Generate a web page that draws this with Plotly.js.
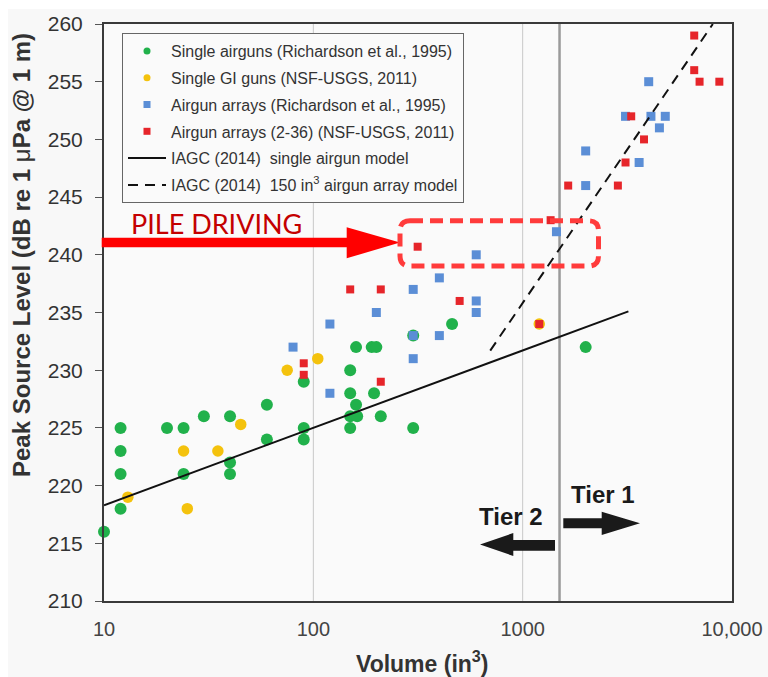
<!DOCTYPE html>
<html>
<head>
<meta charset="utf-8">
<script src="https://cdn.plot.ly/plotly-3.0.1.min.js"></script>
<style>
  html, body { margin: 0; padding: 0; background: #ffffff; }
  #chart { position: absolute; left: 8px; top: 9px; width: 760px; height: 668px; }
</style>
</head>
<body>
<div id="chart"></div>
<script>
// ---------------- DATA ----------------
const singleAirgunsX = [10, 12, 12, 12, 12, 20, 24, 24, 30, 40, 40, 40, 60, 60, 90, 90, 90,
  150, 150, 150, 150, 160, 160, 162, 190, 200, 195, 210, 300, 300, 460, 2000];
const singleAirgunsY = [216, 225, 223, 221, 218, 225, 225, 221, 226, 226, 222, 221, 227, 224, 229, 225, 224,
  230, 228, 226, 225, 232, 227, 226, 232, 232, 228, 226, 233, 225, 234, 232];

const giGunsX = [13, 24, 25, 35, 45, 75, 105, 1200];
const giGunsY = [219, 223, 218, 223, 225.3, 230, 231, 234];

const arraysRichX = [80, 120, 120, 200, 300, 300, 300, 400, 400, 600, 600, 600, 1450,
  2000, 2000, 3100, 3600, 4000, 4100, 4500, 4800];
const arraysRichY = [232, 234, 228, 235, 237, 231, 233, 238, 233, 240, 236, 235, 242,
  249, 246, 252, 248, 255, 252, 251, 252];

const arraysNsfX = [90, 90, 150, 210, 210, 315, 500, 1200, 1360, 1650, 2850, 3100, 3300, 3800,
  6600, 6600, 7000, 8700];
const arraysNsfY = [230.6, 229.6, 237, 237, 229, 240.7, 236, 234, 243, 246, 246, 248, 252, 250,
  259, 256, 255, 255];

const singleModelX = [10, 3200];
const singleModelY = [218.3, 235.1];

const arrayModelX = [700, 8100];
const arrayModelY = [231.7, 260];

const xTickVals = [10, 100, 1000, 10000];
const xTickText = ['10', '100', '1000', '10,000'];
const gridLinesX = [100, 1000];
const tierBoundaryX = 1500;

const legendNames = [
  'Single airguns (Richardson et al., 1995)',
  'Single GI guns (NSF-USGS, 2011)',
  'Airgun arrays (Richardson et al., 1995)',
  'Airgun arrays (2-36) (NSF-USGS, 2011)',
  'IAGC (2014)  single airgun model',
  'IAGC (2014)  150 in<sup>3</sup> airgun array model'
];

// ---------------- STYLE ----------------
const GREEN = '#21b14b', YELLOW = '#f4c20d', BLUE = '#5b8ed6', RED = '#e6252a';
const FONT = 'Liberation Sans, Arial, sans-serif';

// page-pixel -> paper coords helper for decorative shapes (plot area: x 104..732, y 24..601)
const PL = 104, PW = 628, PB = 601, PH = 577;
const P = (px, py) => ((px - PL) / PW).toFixed(5) + ',' + ((PB - py) / PH).toFixed(5);
const poly = pts => 'M' + pts.map(p => P(p[0], p[1])).join(' L') + ' Z';

const markerTrace = (x, y, name, color, symbol, size) => ({
  x, y, type: 'scatter', mode: 'markers', name, showlegend: false, cliponaxis: false,
  marker: { color, symbol, size, line: { width: 0 } }, hoverinfo: 'x+y'
});
const legendProxy = (name, group, opts) => Object.assign({
  x: [null], y: [null], type: 'scatter', name, legendgroup: group, showlegend: true
}, opts);

const traces = [
  markerTrace(singleAirgunsX, singleAirgunsY, legendNames[0], GREEN, 'circle', 12),
  markerTrace(giGunsX, giGunsY, legendNames[1], YELLOW, 'circle', 11.5),
  markerTrace(arraysRichX, arraysRichY, legendNames[2], BLUE, 'square', 9),
  markerTrace(arraysNsfX, arraysNsfY, legendNames[3], RED, 'square', 8),
  { x: singleModelX, y: singleModelY, type: 'scatter', mode: 'lines', showlegend: false,
    line: { color: '#111111', width: 2 } },
  { x: arrayModelX, y: arrayModelY, type: 'scatter', mode: 'lines', showlegend: false,
    line: { color: '#111111', width: 2, dash: '10px,7px' } },
  legendProxy(legendNames[0], 'g1', { mode: 'markers', marker: { color: GREEN, symbol: 'circle', size: 7 } }),
  legendProxy(legendNames[1], 'g2', { mode: 'markers', marker: { color: YELLOW, symbol: 'circle', size: 7 } }),
  legendProxy(legendNames[2], 'g3', { mode: 'markers', marker: { color: BLUE, symbol: 'square', size: 7 } }),
  legendProxy(legendNames[3], 'g4', { mode: 'markers', marker: { color: RED, symbol: 'square', size: 7 } }),
  legendProxy(legendNames[4], 'g5', { mode: 'lines', line: { color: '#111111', width: 2 } }),
  legendProxy(legendNames[5], 'g6', { mode: 'lines', line: { color: '#111111', width: 2, dash: '10px,7px' } })
];

const shapes = [];
gridLinesX.forEach(v => shapes.push({ type: 'line', xref: 'x', yref: 'paper', x0: v, x1: v, y0: 0, y1: 1,
  line: { color: '#c8c8c8', width: 1 }, layer: 'below' }));
shapes.push({ type: 'line', xref: 'x', yref: 'paper', x0: tierBoundaryX, x1: tierBoundaryX, y0: 0, y1: 1,
  line: { color: '#9a9a9a', width: 2.5 }, layer: 'below' });
// red PILE DRIVING arrow
shapes.push({ type: 'path', xref: 'paper', yref: 'paper', layer: 'above', fillcolor: '#ff0000',
  line: { width: 0 },
  path: poly([[101.7, 237.7], [346.7, 237.7], [346.7, 227.3], [400, 242.5], [346.7, 258.3], [346.7, 247.3], [101.7, 247.3]]) });
// dashed rounded box
const L = 400, R = 598.5, T = 220.8, B = 266, r = 10;
shapes.push({ type: 'path', xref: 'paper', yref: 'paper', layer: 'above',
  line: { color: '#ff3b3b', width: 5, dash: '13px,7px' },
  path: 'M' + P(L + r, T) + ' L' + P(R - r, T) + ' Q' + P(R, T) + ' ' + P(R, T + r) +
        ' L' + P(R, B - r) + ' Q' + P(R, B) + ' ' + P(R - r, B) +
        ' L' + P(L + r, B) + ' Q' + P(L, B) + ' ' + P(L, B - r) +
        ' L' + P(L, T + r) + ' Q' + P(L, T) + ' ' + P(L + r, T) + ' Z' });
// Tier arrows
shapes.push({ type: 'path', xref: 'paper', yref: 'paper', layer: 'above', fillcolor: '#1a1a1a', line: { width: 0 },
  path: poly([[563.3, 518.3], [601.7, 518.3], [601.7, 511.7], [640, 523.3], [601.7, 535], [601.7, 528.3], [563.3, 528.3]]) });
shapes.push({ type: 'path', xref: 'paper', yref: 'paper', layer: 'above', fillcolor: '#1a1a1a', line: { width: 0 },
  path: poly([[555, 540], [513.3, 540], [513.3, 533], [480, 544.5], [513.3, 556], [513.3, 550.7], [555, 550.7]]) });

const px2x = px => (px - PL) / PW, py2y = py => (PB - py) / PH;
const annotations = [
  { text: 'PILE DRIVING', xref: 'paper', yref: 'paper', x: px2x(216), y: py2y(223.3), showarrow: false,
    xanchor: 'center', yanchor: 'middle', font: { family: 'Lato, sans-serif', size: 27, color: '#c40000' } },
  { text: 'Tier 1', xref: 'paper', yref: 'paper', x: px2x(602.5), y: py2y(494), showarrow: false,
    xanchor: 'center', yanchor: 'middle', font: { family: FONT, size: 24, color: '#1a1a1a', weight: 'bold' } },
  { text: 'Tier 2', xref: 'paper', yref: 'paper', x: px2x(511), y: py2y(516.7), showarrow: false,
    xanchor: 'center', yanchor: 'middle', font: { family: FONT, size: 24, color: '#1a1a1a', weight: 'bold' } },
  { text: 'Peak Source Level (dB re 1 <span style="font-weight:normal">μ</span>Pa @ 1 m)', xref: 'paper', yref: 'paper',
    x: px2x(22), y: py2y(255), showarrow: false, textangle: -90,
    xanchor: 'center', yanchor: 'middle', font: { family: FONT, size: 24, color: '#333333', weight: 'bold' } },
  { text: 'Volume (in<sup>3</sup>)', xref: 'paper', yref: 'paper', x: px2x(422), y: py2y(662), showarrow: false,
    xanchor: 'center', yanchor: 'middle', font: { family: FONT, size: 23, color: '#333333', weight: 'bold' } }
];

const layout = {
  width: 760, height: 668,
  margin: { l: 96, r: 36, t: 15, b: 76 },
  paper_bgcolor: '#f8f8f8', plot_bgcolor: '#fafafa',
  showlegend: true,
  legend: { x: px2x(122), y: py2y(33), xanchor: 'left', yanchor: 'top',
    bgcolor: '#fafafa', bordercolor: '#666666', borderwidth: 1,
    font: { family: FONT, size: 16, color: '#333333' },
    traceorder: 'grouped', tracegroupgap: 3, itemwidth: 38 },
  xaxis: { type: 'log', range: [1, 4], tickvals: xTickVals, ticktext: xTickText,
    showgrid: false, zeroline: false, ticks: '', showline: true, mirror: true,
    linecolor: '#3a3a3a', linewidth: 2, ticklabelstandoff: 9, ticklabeloverflow: 'allow',
    tickfont: { family: 'Liberation Sans Narrow, Arial Narrow, Liberation Sans, sans-serif', size: 20, color: '#444444' } },
  yaxis: { range: [210, 260], dtick: 5, tick0: 210, showgrid: false, zeroline: false,
    ticks: 'outside', ticklen: 7, tickcolor: '#555555', tickwidth: 1,
    showline: true, mirror: true, linecolor: '#3a3a3a', linewidth: 2, ticklabelstandoff: 8,
    tickfont: { family: FONT, size: 21, color: '#333333' } },
  shapes, annotations
};

Plotly.newPlot('chart', traces, layout, { displayModeBar: false, staticPlot: true });
</script>
</body>
</html>
